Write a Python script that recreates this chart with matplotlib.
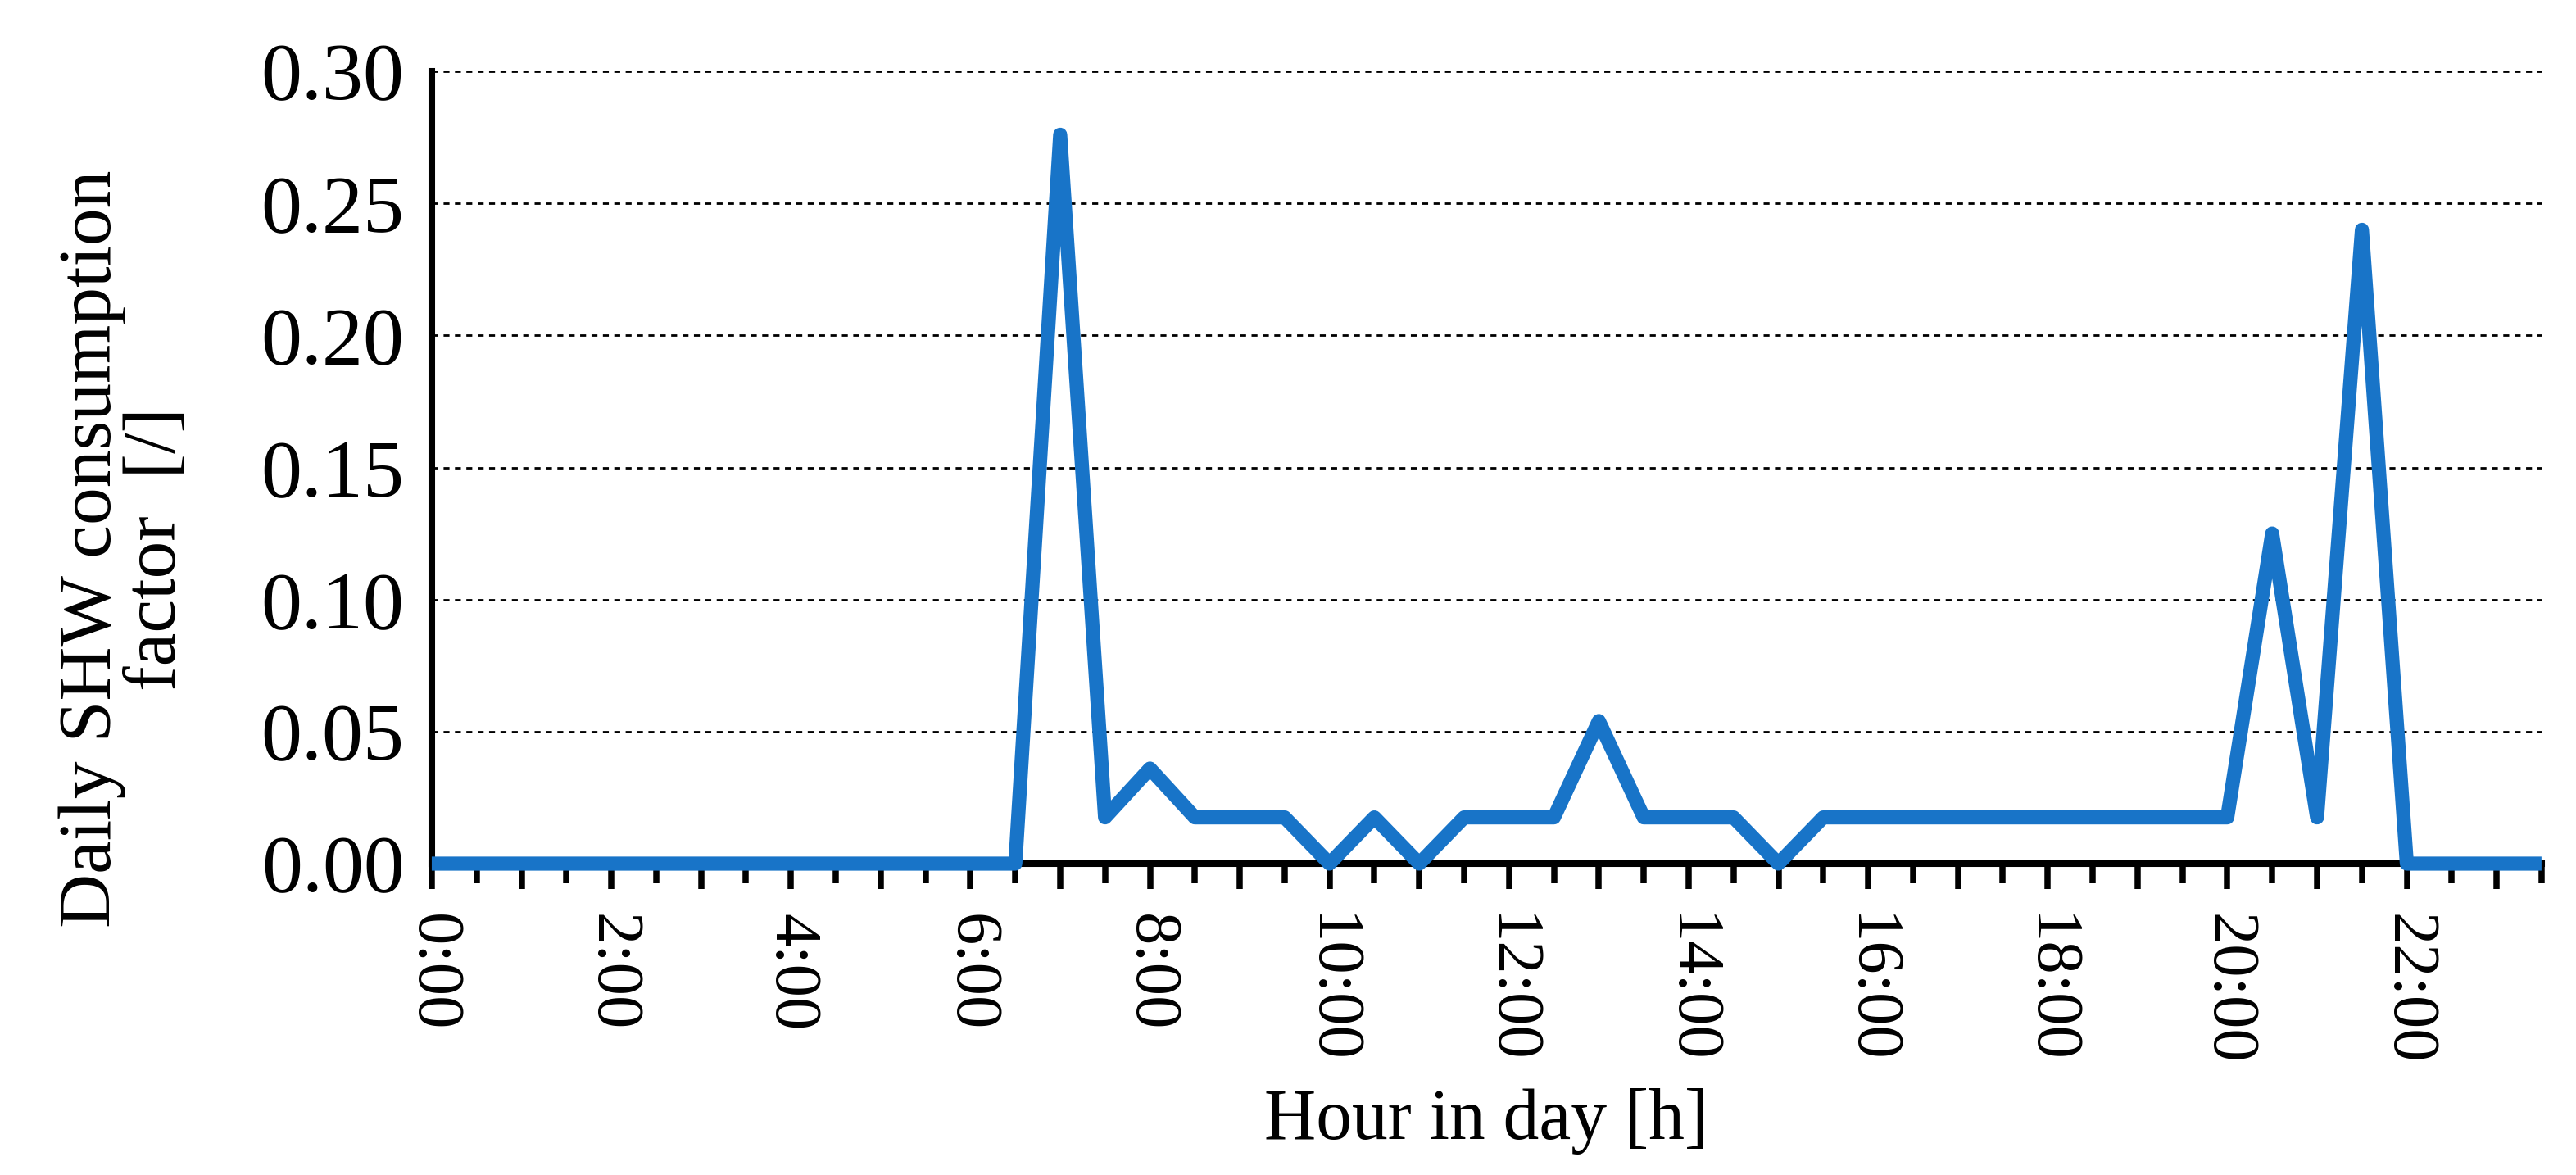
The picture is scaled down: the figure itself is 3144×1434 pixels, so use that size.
import matplotlib
matplotlib.use("Agg")
import matplotlib.pyplot as plt
import numpy as np

plt.rcParams["font.family"] = ["Liberation Serif", "DejaVu Serif"]

# half-hour steps over the day, 0:00 .. 23:30
hours = np.arange(0, 24, 0.5)
shw_factor = [
    0, 0, 0, 0, 0, 0, 0, 0, 0, 0, 0, 0, 0, 0,        # 0:00 - 6:30
    0.276, 0.0175, 0.036, 0.0175, 0.0175, 0.0175,    # 7:00 - 9:30
    0, 0.0175, 0, 0.0175, 0.0175, 0.0175,            # 10:00 - 12:30
    0.054, 0.0175, 0.0175, 0.0175, 0,                # 13:00 - 15:00
    0.0175, 0.0175, 0.0175, 0.0175, 0.0175,          # 15:30 - 17:30
    0.0175, 0.0175, 0.0175, 0.0175, 0.0175,          # 18:00 - 20:00
    0.125, 0.0175, 0.240, 0,                         # 20:30 - 22:00
    0, 0, 0,                                         # 22:30 - 23:30
]
y_ticks = [0.00, 0.05, 0.10, 0.15, 0.20, 0.25, 0.30]

# full hours get the longer ticks, labels only every 2 hours
full_hours = list(range(0, 24))
x_labels = [f"{h}:00" if h % 2 == 0 else "" for h in full_hours]
half_hours = [h + 0.5 for h in full_hours]

fig = plt.figure(figsize=(15.72, 7.17), dpi=200)
ax = fig.add_axes([0.1676, 0.2650, 0.8190, 0.6743])

ax.plot(hours, shw_factor, color="#1874c8", linewidth=6.2,
        solid_joinstyle="round", solid_capstyle="butt",
        zorder=3, clip_on=False)

ax.set_xlim(0, 23.5)
ax.set_ylim(0, 0.30)

ax.set_xticks(full_hours)
ax.set_xticklabels(x_labels, rotation=-90, fontsize=29, va="top", ha="center")
ax.set_xticks(half_hours, minor=True)
ax.tick_params(axis="x", which="major", direction="out", length=11, width=2.7,
               color="black", pad=11)
ax.tick_params(axis="x", which="minor", direction="out", length=8.5, width=2.7,
               color="black")

ax.set_yticks(y_ticks)
ax.set_yticklabels([f"{v:.2f}" for v in y_ticks], fontsize=36)
ax.tick_params(axis="y", length=0, pad=12)

ax.grid(axis="y", color="black", linestyle=(0, (2.6, 2.4)), linewidth=1.0)
ax.set_axisbelow(True)

for side in ["top", "right"]:
    ax.spines[side].set_visible(False)
ax.spines["left"].set_linewidth(2.9)
ax.spines["bottom"].set_linewidth(2.9)

ax.set_xlabel("Hour in day [h]", fontsize=31.5, va="center")
ax.xaxis.set_label_coords(0.5, -0.325)
ax.set_ylabel("Daily SHW consumption\nfactor  [/]", fontsize=33,
              va="center", ma="center", linespacing=0.95)
ax.yaxis.set_label_coords(-0.1456, 0.397)

fig.savefig("out.png", dpi=200)
